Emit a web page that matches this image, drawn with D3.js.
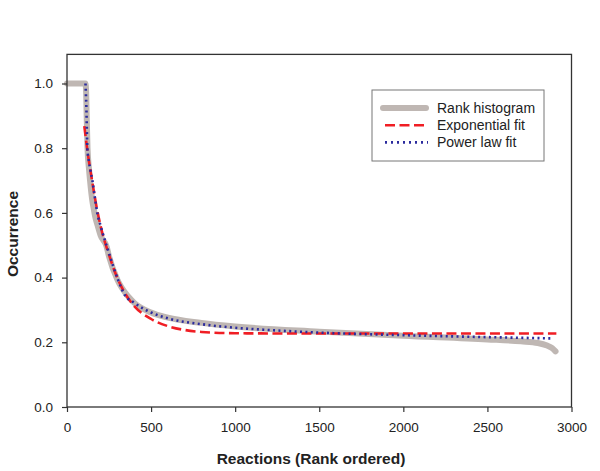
<!DOCTYPE html>
<html>
<head>
<meta charset="utf-8">
<script src="https://cdn.jsdelivr.net/npm/d3@7"></script>
<style>
  body { margin: 0; background: #fff; }
  svg { font-family: "Liberation Sans", Arial, Helvetica, sans-serif; }
</style>
</head>
<body>
<svg></svg>
<script>
const width = 600;
const height = 471;

// Rank histogram (rank, occurrence)
const histRank = [0, 110, 114, 117, 122, 130, 137, 150, 160, 167, 180, 200, 236, 250, 300, 365, 400, 500, 600, 800, 1000, 1500, 2000, 2500, 2700, 2800, 2855, 2885, 2905];
const histOcc = [1.0, 1.0, 0.97, 0.9, 0.8, 0.74, 0.70, 0.64, 0.61, 0.59, 0.565, 0.53, 0.495, 0.465, 0.393, 0.341, 0.322, 0.292, 0.276, 0.260, 0.249, 0.233, 0.220, 0.209, 0.203, 0.198, 0.190, 0.182, 0.172];

// Exponential fit
const expRank = [103, 125, 150, 175, 200, 250, 300, 350, 400, 500, 600, 700, 800, 1000, 1500, 2000, 2910];
const expOcc = [0.868, 0.779, 0.697, 0.621, 0.559, 0.470, 0.398, 0.347, 0.312, 0.272, 0.250, 0.238, 0.232, 0.228, 0.227, 0.227, 0.227];

// Power law fit
const powRank = [110, 115, 121, 130, 140, 151, 165, 180, 200, 250, 302, 345, 400, 500, 600, 800, 1000, 1200, 1500, 2000, 2500, 2890];
const powOcc = [1.0, 0.93, 0.80, 0.76, 0.73, 0.70, 0.65, 0.60, 0.56, 0.475, 0.395, 0.345, 0.322, 0.292, 0.274, 0.256, 0.245, 0.238, 0.230, 0.222, 0.216, 0.212];

const xTicks = [0, 500, 1000, 1500, 2000, 2500, 3000];
const yTicks = [0.0, 0.2, 0.4, 0.6, 0.8, 1.0];
const legendLabels = ['Rank histogram', 'Exponential fit', 'Power law fit'];

const x = d3.scaleLinear().domain([0, 3000]).range([67, 571.5]);
const y = d3.scaleLinear().domain([0, 1]).range([407, 83.5]);
const yTop = 1.09;

const svg = d3.select('svg').attr('width', width).attr('height', height);

// series
const line = d3.line().x(d => x(d[0])).y(d => y(d[1])).curve(d3.curveMonotoneX);
const zip = (a, b) => a.map((v, i) => [v, b[i]]);

const grayC = '#bfb7b3', redC = '#f01e24', blueC = '#2b2b9e';
const redDash = '10,4.5', blueDash = '2,3.4';

svg.append('path')
    .attr('d', line(zip(histRank, histOcc)))
    .attr('fill', 'none')
    .attr('stroke', grayC)
    .attr('stroke-width', 6)
    .attr('stroke-linecap', 'round')
    .attr('stroke-linejoin', 'round');

svg.append('path')
    .attr('d', line(zip(expRank, expOcc)))
    .attr('fill', 'none')
    .attr('stroke', redC)
    .attr('stroke-width', 2.6)
    .attr('stroke-dasharray', redDash);

svg.append('path')
    .attr('d', line(zip(powRank, powOcc)))
    .attr('fill', 'none')
    .attr('stroke', blueC)
    .attr('stroke-width', 2.6)
    .attr('stroke-dasharray', blueDash);

// frame
svg.append('rect')
    .attr('x', x(0))
    .attr('y', y(yTop))
    .attr('width', x(3000) - x(0))
    .attr('height', y(0) - y(yTop))
    .attr('fill', 'none')
    .attr('stroke', '#333')
    .attr('stroke-width', 1.3);

// axes
const xAxis = svg.append('g')
    .attr('transform', `translate(0,${y(0)})`)
    .call(d3.axisBottom(x).tickValues(xTicks).tickFormat(d3.format('d')).tickSize(5).tickPadding(10));
const yAxis = svg.append('g')
    .attr('transform', `translate(${x(0)},0)`)
    .call(d3.axisLeft(y).tickValues(yTicks).tickFormat(d3.format('.1f')).tickSize(5).tickPadding(9));

[xAxis, yAxis].forEach(g => {
  g.select('.domain').remove();
  g.selectAll('line').attr('stroke', '#333').attr('stroke-width', 1.2);
  g.selectAll('text')
      .attr('fill', '#222')
      .style('font-size', '13.5px')
      .style('font-family', '"Liberation Sans", Arial, sans-serif');
});

// axis titles
svg.append('text')
    .attr('x', 311)
    .attr('y', 464)
    .attr('text-anchor', 'middle')
    .style('font-size', '15.5px')
    .style('font-weight', 'bold')
    .attr('fill', '#222')
    .text('Reactions (Rank ordered)');

svg.append('text')
    .attr('transform', 'translate(18,234) rotate(-90)')
    .attr('text-anchor', 'middle')
    .style('font-size', '15.5px')
    .style('font-weight', 'bold')
    .attr('fill', '#222')
    .text('Occurrence');

// legend
const legend = svg.append('g');
legend.append('rect')
    .attr('x', 372)
    .attr('y', 90)
    .attr('width', 172)
    .attr('height', 71)
    .attr('fill', '#fff')
    .attr('stroke', '#777')
    .attr('stroke-width', 1);

const legendStyles = [
  { stroke: grayC, w: 6, dash: null, cap: 'round' },
  { stroke: redC, w: 2.6, dash: redDash, cap: 'butt' },
  { stroke: blueC, w: 2.6, dash: '2,4', cap: 'butt' }
];

legendLabels.forEach((label, i) => {
  const cy = 108 + i * 17.2;
  const s = legendStyles[i];
  legend.append('line')
      .attr('x1', s.cap === 'round' ? 383 : 385)
      .attr('x2', s.cap === 'round' ? 426 : 428)
      .attr('y1', cy)
      .attr('y2', cy)
      .attr('stroke', s.stroke)
      .attr('stroke-width', s.w)
      .attr('stroke-linecap', s.cap)
      .attr('stroke-dasharray', s.dash);
  legend.append('text')
      .attr('x', 437)
      .attr('y', cy + 5)
      .style('font-size', '14px')
      .attr('fill', '#222')
      .text(label);
});
</script>
</body>
</html>
